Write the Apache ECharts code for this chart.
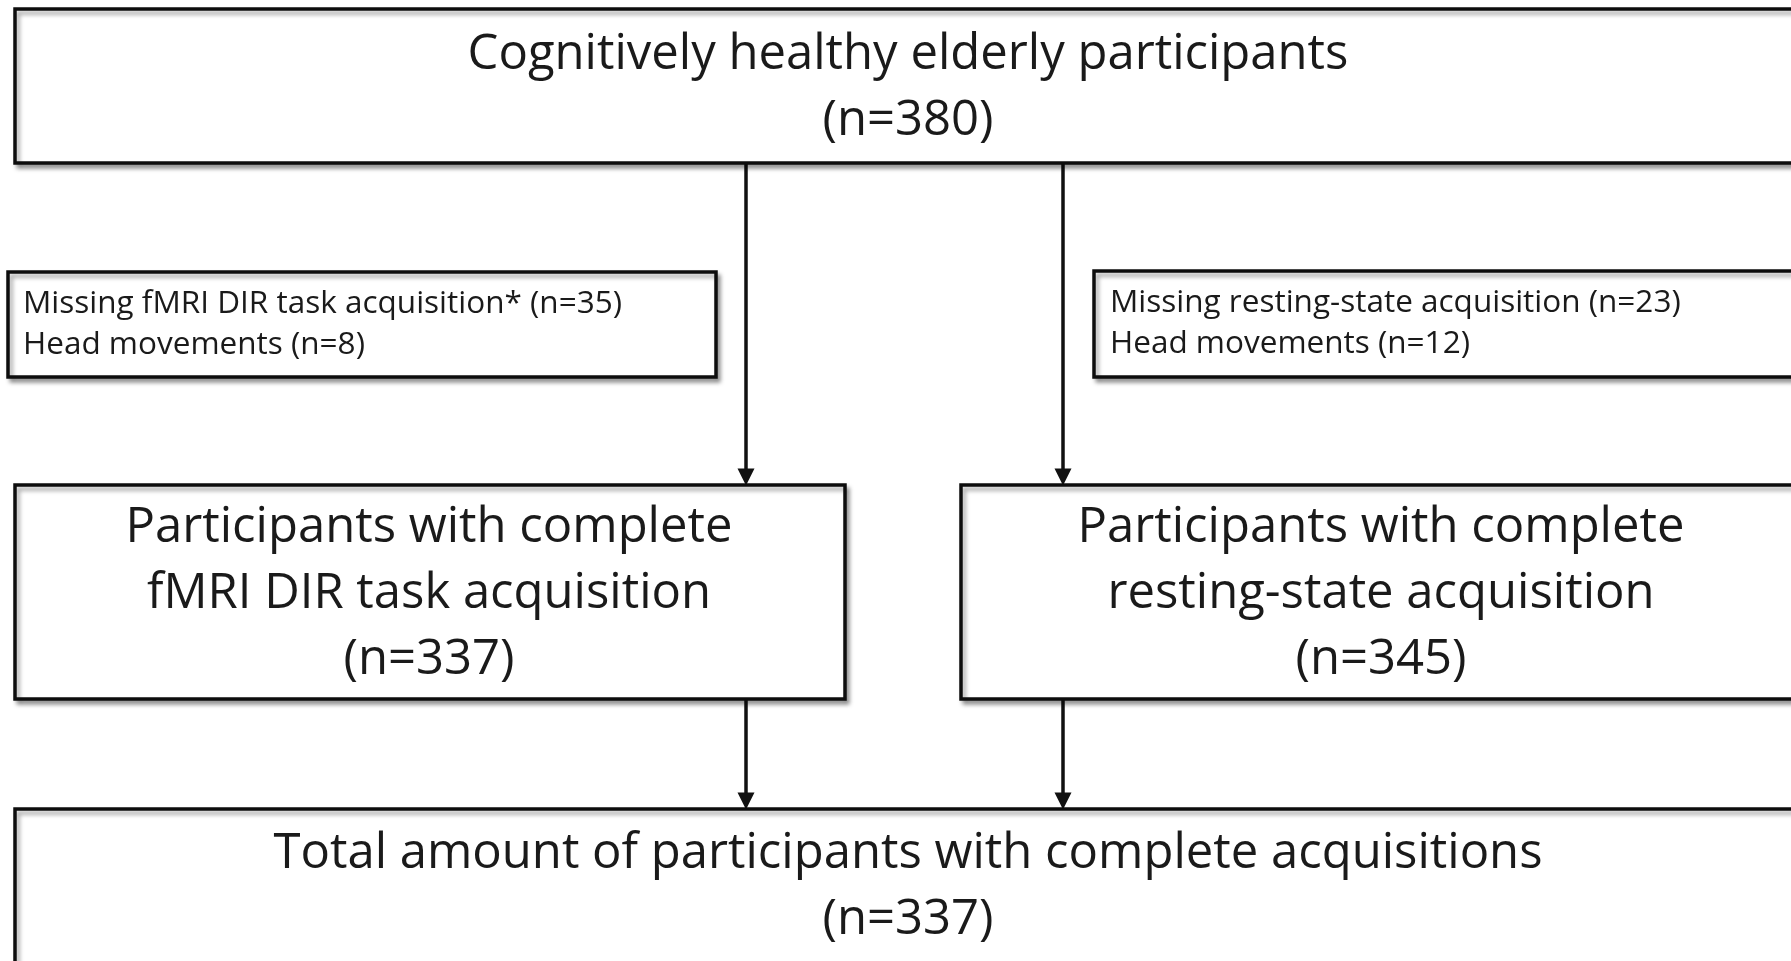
<!DOCTYPE html>
<html>
<head>
<meta charset="utf-8">
<script src="https://cdn.jsdelivr.net/npm/echarts@6/dist/echarts.min.js"></script>
<style>html,body{margin:0;padding:0;background:#fff;}#c{width:1791px;height:961px;}</style>
</head>
<body>
<div id="c"></div>
<script>
// ---- content ----
const mainTitles = [
  ["Cognitively healthy elderly participants"],
  ["Participants with complete", "fMRI DIR task acquisition"],
  ["Participants with complete", "resting-state acquisition"],
  ["Total amount of participants with complete acquisitions"]
];
const mainCounts = [380, 337, 345, 337];
const exclLeftLabels = ["Missing fMRI DIR task acquisition*", "Head movements"];
const exclLeftCounts = [35, 8];
const exclRightLabels = ["Missing resting-state acquisition", "Head movements"];
const exclRightCounts = [23, 12];

// ---- layout (pixel space of the 1791x961 canvas) ----
const mainBoxes = [
  {x0: 15, y0: 9, x1: 1810, y1: 163, cx: 908, lines: [55, 121]},
  {x0: 15, y0: 485, x1: 845, y1: 699, cx: 429, lines: [528, 594, 660]},
  {x0: 961, y0: 485, x1: 1810, y1: 699, cx: 1381, lines: [528, 594, 660]},
  {x0: 15, y0: 809, x1: 1810, y1: 1010, cx: 908, lines: [854, 920]}
];
const exclBoxes = [
  {x0: 8, y0: 272, x1: 716, y1: 377, tx: 23, lines: [304, 345]},
  {x0: 1094, y0: 271, x1: 1810, y1: 377, tx: 1110, lines: [303, 344]}
];
const arrowX = [746, 1063];
const arrowSegs = [[163, 485], [699, 809]];

const FONT = '"Open Sans", "Noto Sans", sans-serif';
const BIG = 49, SMALL = 31.5;

function boxTexts(i) {
  return mainTitles[i].concat(["(n=" + mainCounts[i] + ")"]);
}

const chart = echarts.init(document.getElementById('c'), null, {renderer: 'canvas'});

const boxData = mainBoxes.map((b, i) => [b.x0, b.y0, b.x1, b.y1, i, 0])
  .concat(exclBoxes.map((b, i) => [b.x0, b.y0, b.x1, b.y1, i, 1]));

const arrowData = [];
arrowX.forEach(x => arrowSegs.forEach(s => arrowData.push({coords: [[x, s[0] + 1], [x, s[1] - 8]]})));

chart.setOption({
  backgroundColor: '#ffffff',
  animation: false,
  grid: {left: 0, right: 0, top: 0, bottom: 0},
  xAxis: {type: 'value', min: 0, max: 1791, show: false},
  yAxis: {type: 'value', min: 0, max: 961, inverse: true, show: false},
  series: [
    {
      type: 'lines',
      coordinateSystem: 'cartesian2d',
      z: 1,
      symbol: ['none', 'triangle'],
      symbolSize: [17, 17],
      lineStyle: {color: '#111', width: 3.5, opacity: 1},
      itemStyle: {color: '#111'},
      data: arrowData
    },
    {
      type: 'custom',
      z: 2,
      clip: false,
      data: boxData,
      renderItem: function (params, api) {
        const p0 = api.coord([api.value(0), api.value(1)]);
        const p1 = api.coord([api.value(2), api.value(3)]);
        const idx = api.value(4), kind = api.value(5);
        const children = [{
          type: 'rect',
          shape: {x: p0[0], y: p0[1], width: p1[0] - p0[0], height: p1[1] - p0[1]},
          style: {
            fill: '#fff', stroke: '#0d0d0d', lineWidth: 3.5,
            shadowBlur: 4, shadowOffsetX: 3, shadowOffsetY: 4, shadowColor: 'rgba(0,0,0,0.35)'
          }
        }];
        if (kind === 0) {
          const b = mainBoxes[idx];
          const t = boxTexts(idx);
          t.forEach((s, k) => {
            const c = api.coord([b.cx, b.lines[k]]);
            children.push({type: 'text', style: {
              text: s, x: c[0], y: c[1], align: 'center', verticalAlign: 'middle',
              fontSize: BIG, fontFamily: FONT, fill: '#1a1a1a'
            }});
          });
        } else {
          const b = exclBoxes[idx];
          const labels = idx === 0 ? exclLeftLabels : exclRightLabels;
          const counts = idx === 0 ? exclLeftCounts : exclRightCounts;
          labels.forEach((s, k) => {
            const c = api.coord([b.tx, b.lines[k]]);
            children.push({type: 'text', style: {
              text: s + " (n=" + counts[k] + ")", x: c[0], y: c[1], align: 'left', verticalAlign: 'middle',
              fontSize: SMALL, fontFamily: FONT, fill: '#1a1a1a'
            }});
          });
        }
        return {type: 'group', children: children};
      }
    }
  ]
});
</script>
</body>
</html>
